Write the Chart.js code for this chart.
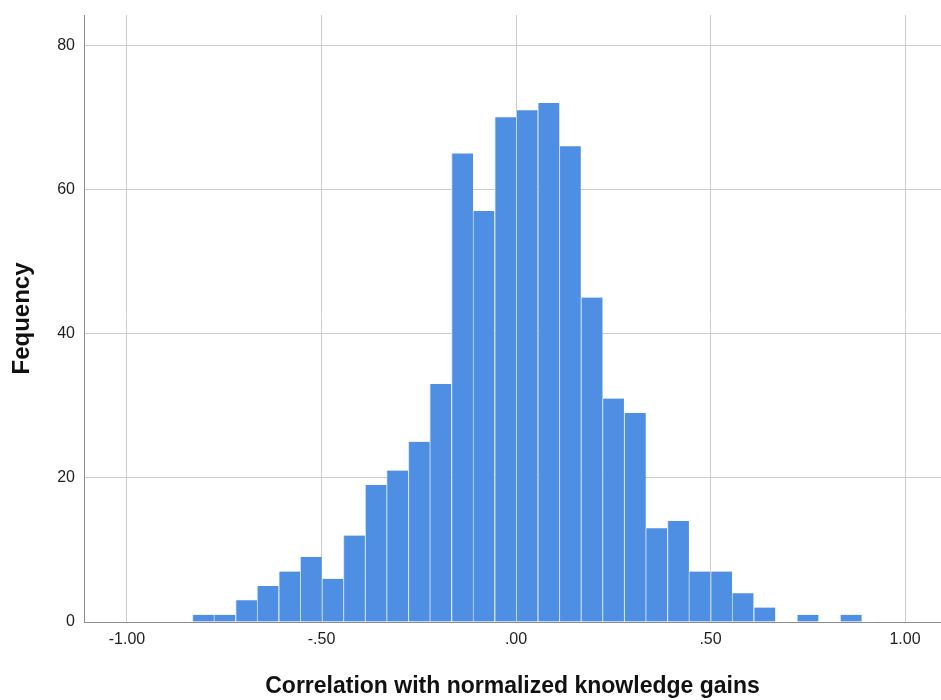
<!DOCTYPE html>
<html>
<head>
<meta charset="utf-8">
<title>Histogram</title>
<script src="https://cdnjs.cloudflare.com/ajax/libs/Chart.js/4.4.1/chart.umd.min.js"></script>
<style>
  html, body { margin: 0; padding: 0; background: #ffffff; }
  #wrap { width: 941px; height: 700px; }
</style>
</head>
<body>
<div id="wrap"><canvas id="histChart" width="941" height="700"></canvas></div>
<script>
// bin centres (correlation)
const binCenters = [-0.804, -0.749, -0.693, -0.638, -0.582, -0.527, -0.471, -0.416, -0.360, -0.305,
  -0.249, -0.194, -0.138, -0.083, -0.027, 0.028, 0.084, 0.139, 0.195, 0.250,
  0.306, 0.361, 0.417, 0.472, 0.528, 0.583, 0.639, 0.694, 0.750, 0.805, 0.861];

// counts per bin
const frequencies = [1, 1, 3, 5, 7, 9, 6, 12, 19, 21,
  25, 33, 65, 57, 70, 71, 72, 66, 45, 31,
  29, 13, 14, 7, 7, 4, 2, 0, 1, 0, 1];

// axis ticks as SPSS prints them
const xTickValues = [-1, -0.5, 0, 0.5, 1];
const xTickLabels = ['-1.00', '-.50', '.00', '.50', '1.00'];
const yTickValues = [0, 20, 40, 60, 80];

const xTitle = 'Correlation with normalized knowledge gains';
const yTitle = 'Fequency';

const points = binCenters.map((x, i) => ({ x: x, y: frequencies[i] }));

const gridColor = '#cdcdcd';
const axisColor = '#8c8c8c';
const textColor = '#1e1e1e';

const ctx = document.getElementById('histChart').getContext('2d');
new Chart(ctx, {
  type: 'bar',
  data: {
    datasets: [{
      label: yTitle,
      data: points,
      backgroundColor: '#4f8fe3',
      borderColor: '#c9e0f7',
      borderWidth: { left: 1, right: 0, top: 0, bottom: 0 },
      borderSkipped: false,
      barPercentage: 1,
      categoryPercentage: 1
    }]
  },
  options: {
    responsive: false,
    animation: false,
    layout: { padding: { top: 15, right: 0, left: 0, bottom: 0 } },
    plugins: {
      legend: { display: false },
      tooltip: { enabled: false }
    },
    scales: {
      x: {
        type: 'linear',
        offset: false,
        min: -1.1105,
        max: 1.0925,
        afterBuildTicks: (scale) => {
          scale.ticks = xTickValues.map(v => ({ value: v }));
        },
        afterFit: (scale) => { scale.height = 78; },
        grid: { color: gridColor, lineWidth: 1, drawTicks: false, offset: false },
        border: { color: axisColor, width: 1 },
        ticks: {
          padding: 8,
          color: textColor,
          font: { family: '"Liberation Sans", Arial, sans-serif', size: 16 },
          callback: (value) => {
            const idx = xTickValues.indexOf(value);
            return idx >= 0 ? xTickLabels[idx] : '';
          }
        },
        title: {
          display: true,
          text: xTitle,
          color: '#111',
          padding: { top: 0, bottom: 0 },
          font: { family: '"Liberation Sans", Arial, sans-serif', size: 23, weight: 'bold' }
        }
      },
      y: {
        min: 0,
        max: 84.2,
        afterBuildTicks: (scale) => {
          scale.ticks = yTickValues.map(v => ({ value: v }));
        },
        afterFit: (scale) => {
          scale.width = 84;
          scale.paddingTop = 0; // top label is not at the max, no room needed
        },
        grid: { color: gridColor, lineWidth: 1, drawTicks: false },
        border: { color: axisColor, width: 1 },
        ticks: {
          padding: 9,
          color: textColor,
          font: { family: '"Liberation Sans", Arial, sans-serif', size: 16 }
        },
        title: {
          display: true,
          text: yTitle,
          color: '#111',
          padding: { top: 8, bottom: 0 },
          font: { family: '"Liberation Sans", Arial, sans-serif', size: 24, weight: 'bold' }
        }
      }
    }
  }
});
</script>
</body>
</html>
